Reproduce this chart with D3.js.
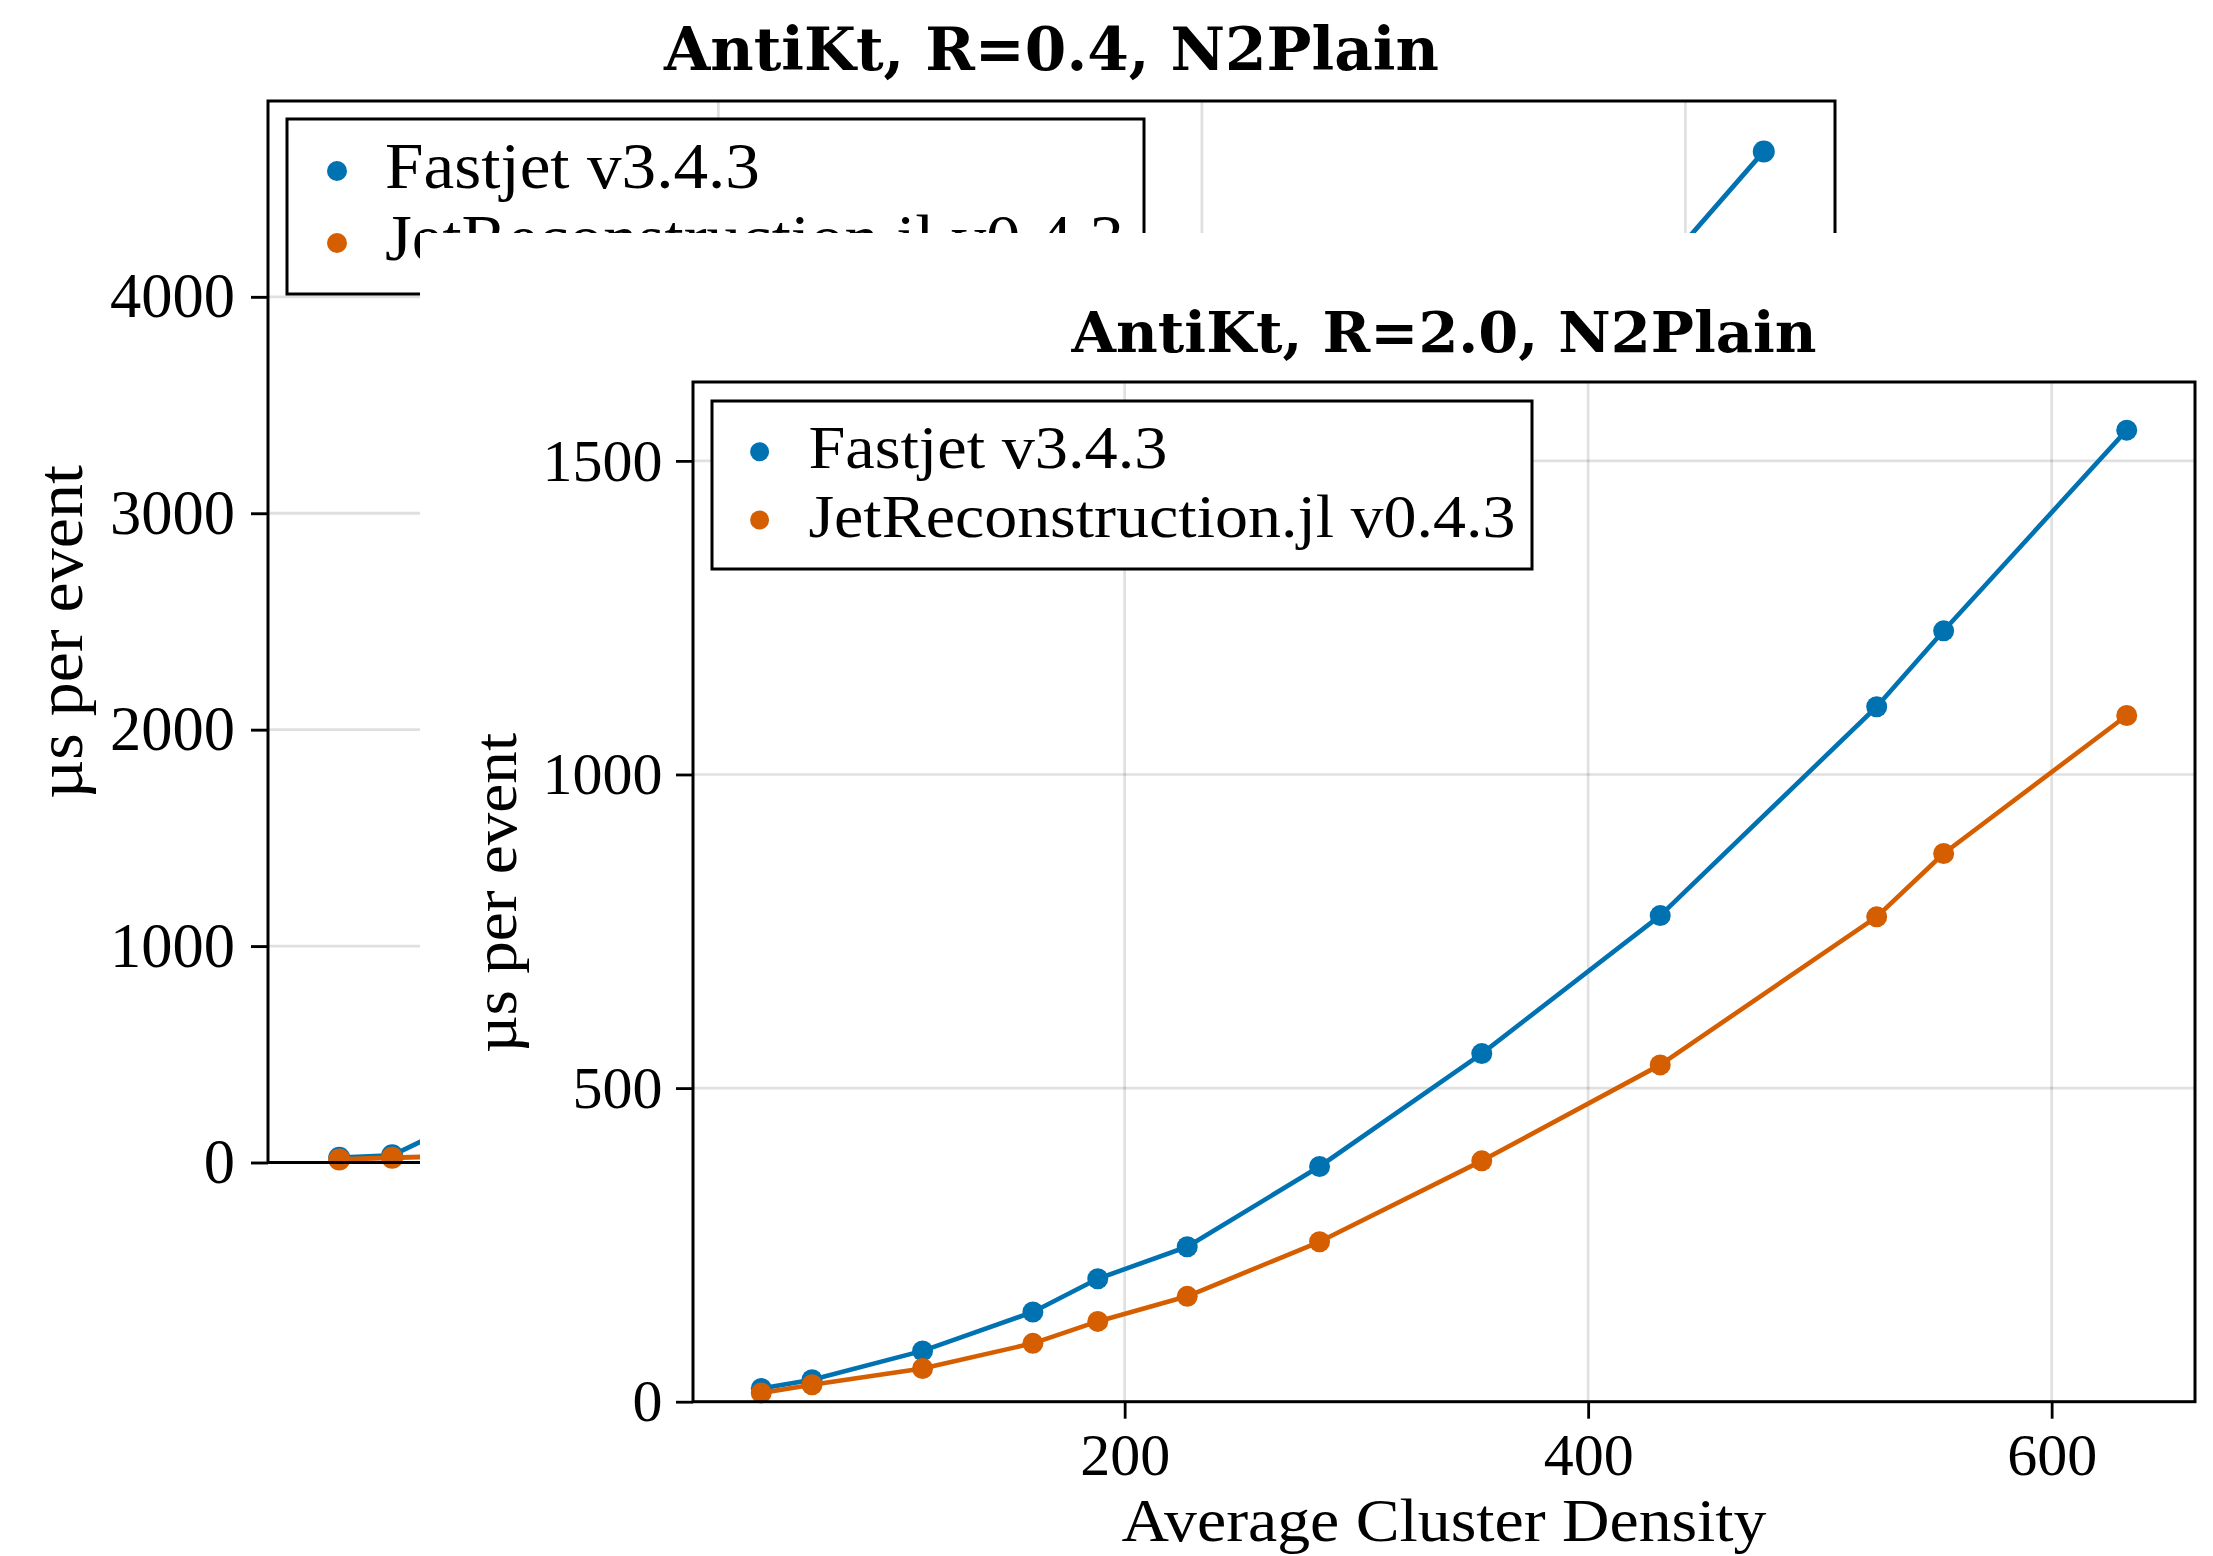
<!DOCTYPE html>
<html><head><meta charset="utf-8">
<script src="https://cdn.jsdelivr.net/npm/d3@7"></script>
<style>html,body{margin:0;padding:0;background:#fff;} svg{display:block;}</style>
</head><body>
<svg id="c" width="2213" height="1556"></svg>
<script>
// ---------------- data ----------------
const density = [43.2, 65.1, 112.8, 160.4, 188.4, 227.0, 284.1, 354.1, 431.1, 524.5, 553.4, 632.4];
// R=0.4 panel (mostly hidden behind the R=2.0 panel)
const fastjetR04 = [22, 33, 290, 460, 600, 760, 1130, 1680, 2330, 3300, 3660, 4672];
const jetrecoR04 = [14, 22, 36, 55, 70, 90, 130, 195, 280, 400, 450, 560];
// R=2.0 panel
const fastjetR20 = [21, 35, 81, 143, 196, 247, 375, 555, 775, 1108, 1229, 1549];
const jetrecoR20 = [14, 27, 53, 93, 128, 168, 255, 384, 537, 773, 874, 1094];
const seriesNames = ["Fastjet v3.4.3", "JetReconstruction.jl v0.4.3"];
const seriesColors = ["#0072B2", "#D55E00"];
const xTicks = [200, 400, 600];
const yTicksR04 = [0, 1000, 2000, 3000, 4000];
const yTicksR20 = [0, 500, 1000, 1500];
const titles = ["AntiKt, R=0.4, N2Plain", "AntiKt, R=2.0, N2Plain"];
const xLabel = "Average Cluster Density";
const yLabel = "µs per event";

// ---------------- drawing ----------------
const REG = "'Liberation Serif', 'DejaVu Serif', serif";
const BOLD = "'DejaVu Serif', 'Liberation Serif', serif";
const svg = d3.select("#c");

function padExtent(arr) {
  const lo = d3.min(arr), hi = d3.max(arr), r = hi - lo;
  return [lo - 0.05 * r, hi + 0.05 * r];
}

function drawPanel(g, P) {
  const all = P.series.flat();
  const x = d3.scaleLinear().domain(padExtent(density)).range([P.left, P.right]);
  const ymax = d3.max(all) + 0.05 * (d3.max(all) - d3.min(all));
  const y = d3.scaleLinear().domain([0, ymax]).range([P.bottom, P.top]);

  // grid
  g.append("g").selectAll("line").data(P.yTicks.filter(d => d > 0)).join("line")
    .attr("x1", P.left).attr("x2", P.right)
    .attr("y1", d => y(d)).attr("y2", d => y(d))
    .attr("stroke", "#000").attr("stroke-opacity", 0.12).attr("stroke-width", P.gw);
  g.append("g").selectAll("line").data(xTicks).join("line")
    .attr("y1", P.top).attr("y2", P.bottom)
    .attr("x1", d => x(d)).attr("x2", d => x(d))
    .attr("stroke", "#000").attr("stroke-opacity", 0.12).attr("stroke-width", P.gw);

  // series
  P.series.forEach((vals, i) => {
    const pts = density.map((d, j) => [x(d), y(vals[j])]);
    g.append("path").attr("d", d3.line()(pts)).attr("fill", "none")
      .attr("stroke", seriesColors[i]).attr("stroke-width", P.lw)
      .attr("stroke-linejoin", "round");
    g.append("g").selectAll("circle").data(pts).join("circle")
      .attr("cx", d => d[0]).attr("cy", d => d[1]).attr("r", P.mr)
      .attr("fill", seriesColors[i]);
  });

  // frame
  g.append("rect").attr("x", P.left).attr("y", P.top)
    .attr("width", P.right - P.left).attr("height", P.bottom - P.top)
    .attr("fill", "none").attr("stroke", "#000").attr("stroke-width", P.sw);

  // axes
  const ya = g.append("g").attr("transform", `translate(${P.left},0)`)
    .call(d3.axisLeft(y).tickValues(P.yTicks).tickFormat(d3.format("d"))
      .tickSize(P.tick).tickPadding(P.pad));
  const xa = g.append("g").attr("transform", `translate(0,${P.bottom})`)
    .call(d3.axisBottom(x).tickValues(xTicks).tickFormat(d3.format("d"))
      .tickSize(P.tick).tickPadding(P.pad));
  [ya, xa].forEach(a => {
    a.select(".domain").remove();
    a.selectAll("line").attr("stroke", "#000").attr("stroke-width", P.tw);
    a.attr("font-family", REG).attr("font-size", P.fs);
    a.selectAll("text").attr("fill", "#000");
  });

  // title
  g.append("text").attr("x", (P.left + P.right) / 2).attr("y", P.titleY)
    .attr("text-anchor", "middle").attr("font-family", BOLD).attr("font-weight", "bold")
    .attr("font-size", P.tfs).attr("textLength", P.titleLen).attr("lengthAdjust", "spacingAndGlyphs")
    .text(P.title);

  // y label
  g.append("text").attr("transform", `translate(${P.ylabX},${P.ylabY}) rotate(-90)`)
    .attr("text-anchor", "middle").attr("font-family", REG).attr("font-size", P.lfs)
    .attr("textLength", P.ylabLen).attr("lengthAdjust", "spacingAndGlyphs")
    .text(yLabel);

  // x label
  if (P.xlabY) {
    g.append("text").attr("x", (P.left + P.right) / 2).attr("y", P.xlabY)
      .attr("text-anchor", "middle").attr("font-family", REG).attr("font-size", P.lfs)
      .attr("textLength", P.xlabLen).attr("lengthAdjust", "spacingAndGlyphs")
      .text(xLabel);
  }

  // legend
  const L = P.legend;
  g.append("rect").attr("x", L.x).attr("y", L.y).attr("width", L.w).attr("height", L.h)
    .attr("fill", "#fff").attr("stroke", "#000").attr("stroke-width", P.sw);
  seriesNames.forEach((name, i) => {
    g.append("circle").attr("cx", L.mx).attr("cy", L.my[i]).attr("r", L.mr)
      .attr("fill", seriesColors[i]);
    g.append("text").attr("x", L.tx).attr("y", L.my[i] + L.base)
      .attr("font-family", REG).attr("font-size", P.lfs)
      .attr("textLength", L.len[i]).attr("lengthAdjust", "spacingAndGlyphs")
      .text(name);
  });
}

// background panel (R=0.4)
drawPanel(svg.append("g"), {
  left: 268, right: 1835, top: 101, bottom: 1162.5,
  series: [fastjetR04, jetrecoR04], yTicks: yTicksR04,
  gw: 2.8, lw: 4.8, mr: 11, sw: 3, tw: 2.9, tick: 17, pad: 16, fs: 62.5,
  title: titles[0], titleY: 70, tfs: 59, titleLen: 775,
  lfs: 64.5, ylabX: 81.5, ylabY: 632, ylabLen: 334,
  legend: { x: 287, y: 119, w: 857, h: 175, mx: 337, my: [171, 243], mr: 10,
            tx: 385, base: 17.4, len: [375, 739] }
});

// covering white area of the front figure
svg.append("rect").attr("x", 420).attr("y", 233).attr("width", 2213 - 420).attr("height", 1556 - 233)
  .attr("fill", "#fff");

// front panel (R=2.0)
drawPanel(svg.append("g"), {
  left: 693, right: 2195, top: 382, bottom: 1401.7,
  series: [fastjetR20, jetrecoR20], yTicks: yTicksR20,
  gw: 2.7, lw: 4.6, mr: 10.5, sw: 3, tw: 2.8, tick: 17, pad: 13.5, fs: 60,
  title: titles[1], titleY: 352, tfs: 56.5, titleLen: 745,
  lfs: 62, ylabX: 516, ylabY: 893, ylabLen: 320,
  xlabY: 1541, xlabLen: 645,
  legend: { x: 712, y: 401, w: 820, h: 168, mx: 759.6, my: [451.7, 520], mr: 9.5,
            tx: 808.4, base: 16.6, len: [359, 707] }
});
</script>
</body></html>
